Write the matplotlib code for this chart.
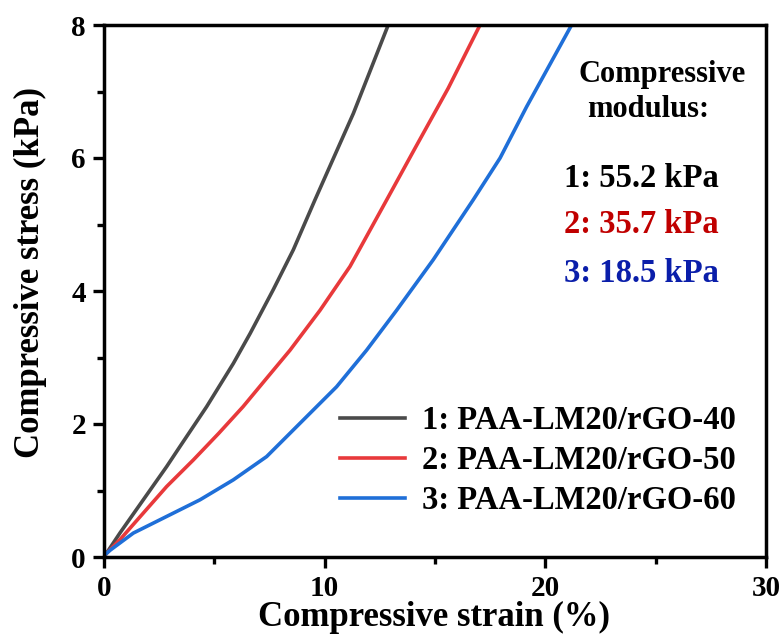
import matplotlib
matplotlib.use("Agg")
import matplotlib.pyplot as plt
from matplotlib.ticker import MultipleLocator

# Data (strain %, stress kPa)
strain_1 = [0.1, 0.72, 1.78, 2.84, 3.44, 4.65, 5.86, 6.62, 7.67, 8.58, 9.56, 11.3, 12.88]
stress_1 = [0.05, 0.36, 0.86, 1.36, 1.66, 2.26, 2.91, 3.36, 4.02, 4.62, 5.37, 6.67, 8.0]

strain_2 = [0.1, 0.72, 1.78, 2.84, 4.05, 5.2, 6.3, 7.3, 8.43, 9.79, 11.15, 12.81, 14.1, 15.6, 17.04]
stress_2 = [0.05, 0.26, 0.66, 1.06, 1.46, 1.86, 2.26, 2.66, 3.11, 3.71, 4.37, 5.37, 6.15, 7.05, 8.0]

strain_3 = [0.1, 0.27, 1.33, 2.84, 4.35, 5.86, 7.37, 9.03, 10.54, 11.9, 13.26, 14.92, 16.73, 17.95, 19.15, 21.19]
stress_3 = [0.05, 0.1, 0.36, 0.61, 0.86, 1.16, 1.51, 2.06, 2.56, 3.11, 3.71, 4.47, 5.37, 6.0, 6.77, 8.0]

labels = ["1: PAA-LM20/rGO-40", "2: PAA-LM20/rGO-50", "3: PAA-LM20/rGO-60"]
moduli = ["1: 55.2 kPa", "2: 35.7 kPa", "3: 18.5 kPa"]
line_colors = ["#4a4a4a", "#e8393b", "#1f6fd8"]
text_colors = ["#000000", "#c00000", "#0a1eaa"]

plt.rcParams['font.family'] = ['Liberation Serif', 'DejaVu Serif']
plt.rcParams['font.weight'] = 'bold'

W, H = 782, 640
fig = plt.figure(figsize=(W / 100, H / 100), dpi=100)
L, R, T, B = 104, 766, 25, 557
ax = fig.add_axes([L / W, 1 - B / H, (R - L) / W, (B - T) / H])

def ax_frac(px, py):
    return ((px - L) / (R - L), (B - py) / (B - T))

for xs, ys, c, lab in zip([strain_1, strain_2, strain_3], [stress_1, stress_2, stress_3], line_colors, labels):
    ax.plot(xs, ys, color=c, lw=2.6, label=lab, solid_joinstyle='round')

ax.set_xlim(0, 30)
ax.set_ylim(0, 8)
ax.xaxis.set_major_locator(MultipleLocator(10))
ax.xaxis.set_minor_locator(MultipleLocator(5))
ax.yaxis.set_major_locator(MultipleLocator(2))
ax.yaxis.set_minor_locator(MultipleLocator(1))
ax.tick_params(which='major', direction='out', length=8, width=2.4, labelsize=21, pad=5)
ax.tick_params(which='minor', direction='out', length=5, width=2.4)
for s in ax.spines.values():
    s.set_linewidth(2.5)
for lab in ax.get_xticklabels() + ax.get_yticklabels():
    lab.set_fontweight('bold')

ax.set_xlabel("Compressive strain (%)", fontsize=25, fontweight='bold')
ax.set_ylabel("Compressive stress (kPa)", fontsize=25, fontweight='bold')
ax.xaxis.set_label_coords(*ax_frac(434, 601))
ax.yaxis.set_label_coords(*ax_frac(47, 273))

leg = ax.legend(loc='upper left', bbox_to_anchor=ax_frac(340, 405), frameon=False,
                prop={'size': 23.5, 'weight': 'bold'}, handlelength=2.0, handletextpad=0.5,
                labelspacing=0.28, borderpad=0, borderaxespad=0)

fx, fy = ax_frac(662, 82)
ax.text(fx, fy, "Compressive", transform=ax.transAxes, ha='center', va='baseline',
        fontsize=22, fontweight='bold')
fx, fy = ax_frac(648, 117)
ax.text(fx, fy, "modulus:", transform=ax.transAxes, ha='center', va='baseline',
        fontsize=22, fontweight='bold')
for t, c, py in zip(moduli, text_colors, [187, 233, 282]):
    fx, fy = ax_frac(641, py)
    ax.text(fx, fy, t, transform=ax.transAxes, ha='center', va='baseline',
            fontsize=23.5, fontweight='bold', color=c)

fig.savefig("out.png", dpi=100)
